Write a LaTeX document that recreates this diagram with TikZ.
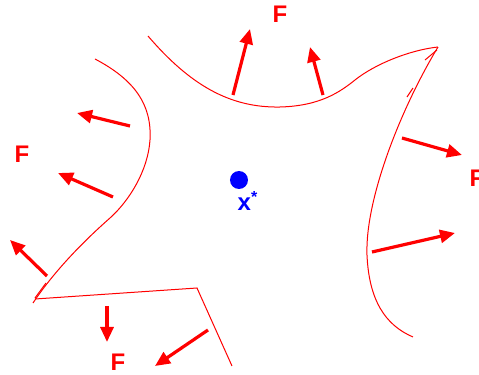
\documentclass[tikz,border=0pt]{standalone}
\usepackage{fontspec}
\setmainfont{Liberation Sans}
\usetikzlibrary{arrows.meta}
\tikzset{
  force/.style={red, line width=1.6pt, -{Triangle[length=7.5pt,width=6.5pt]}},
  rim/.style={red, line width=0.5pt},
  flabel/.style={text=red, font=\bfseries\fontsize{12}{14}\selectfont, inner sep=0pt}
}
\begin{document}
\begin{tikzpicture}[x=0.5pt,y=-0.5pt]
  \useasboundingbox (0,0) rectangle (479,375);
  % outline of the body
  \draw[rim] (148,36) .. controls (190,85) and (230,108) .. (280,107)
    .. controls (320,106) and (340,92) .. (355,80)
    .. controls (375,64) and (410,50) .. (438,47);
  \draw[rim] (438,47) .. controls (400,110) and (365,200) .. (367,255)
    .. controls (369,300) and (385,325) .. (413,337);
  \draw[rim] (437,50) -- (425,60) (413,88) -- (407,97);
  \draw[rim] (95,59) .. controls (135,80) and (152,105) .. (150,140)
    .. controls (148,170) and (130,200) .. (110,218)
    .. controls (85,240) and (55,270) .. (33,303);
  \draw[rim] (35,298) -- (46,283);
  \draw[rim] (35,299) -- (197,288) -- (232,366);
  % forces
  \foreach \xa/\ya/\xb/\yb in {233/95/250/29, 323/95/310/47,
      130/126/77/113, 113/197/58/173, 47/276/10/240,
      107/306/107/342, 208/330/155/366,
      402/138/462/155, 372/252/455/233}
    \draw[force] (\xa,\ya) -- (\xb,\yb);
  \node[flabel] (fTop) at (280,14) {F};
  \node[flabel] (fLeft) at (22,154) {F};
  \node[flabel] (fBot) at (118,362) {F};
  \node[flabel] (fRight) at (477,178) {F};
  % the point x*
  \fill[blue] (239,180) circle [radius=4.5pt];
  \node[text=blue, font=\bfseries\fontsize{12}{14}\selectfont, inner sep=0pt] (xstar) at (248,201) {x\textsuperscript{*}};
\end{tikzpicture}
\end{document}
